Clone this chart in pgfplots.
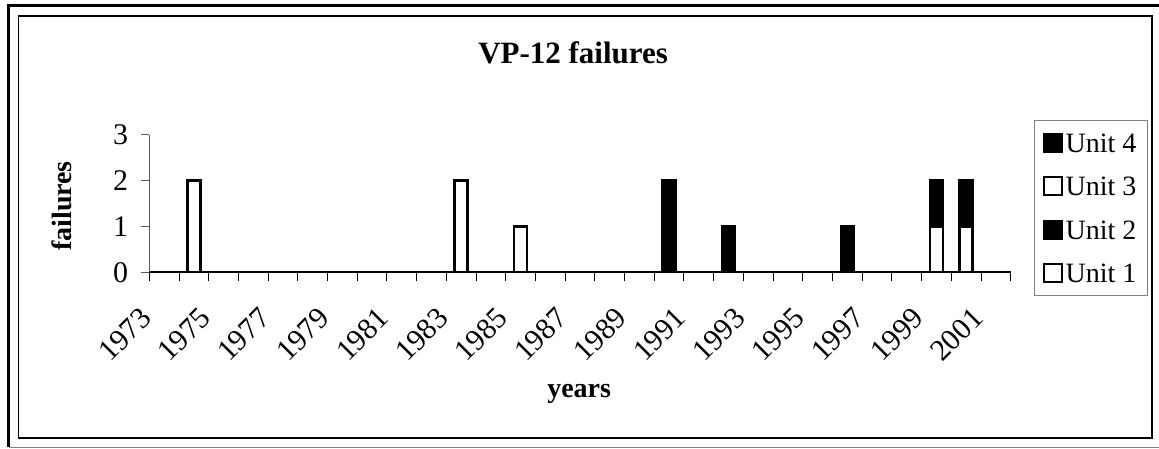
\documentclass[border=0pt]{standalone}
\usepackage{pgfplots}
\pgfplotsset{compat=1.18}
\usepackage{pgfplotstable}
\usepackage{fontspec}
\setmainfont{Liberation Serif}

\pgfplotstableread{
idx u1 u2 u3 u4
0 0 0 0 0
1 2 0 0 0
2 0 0 0 0
3 0 0 0 0
4 0 0 0 0
5 0 0 0 0
6 0 0 0 0
7 0 0 0 0
8 0 0 0 0
9 0 0 0 0
10 2 0 0 0
11 0 0 0 0
12 1 0 0 0
13 0 0 0 0
14 0 0 0 0
15 0 0 0 0
16 0 0 0 0
17 0 2 0 0
18 0 0 0 0
19 0 1 0 0
20 0 0 0 0
21 0 0 0 0
22 0 0 0 0
23 0 1 0 0
24 0 0 0 0
25 0 0 0 0
26 0 0 1 1
27 0 0 1 1
28 0 0 0 0
}\datatable

\begin{document}
\begin{tikzpicture}[x=1pt,y=1pt]
\useasboundingbox (0,0) rectangle (1159,449);
% outer frame
\draw[black, line width=2.5pt] (8.5,1.7) -- (8.5,443.5) -- (1165,443.5);
\draw[gray, line width=1.5pt] (8.5,1.7) -- (1165,1.7);
% inner frame
\draw[black, line width=1.6pt] (18.3,10.7) rectangle (1151.7,433);
\begin{axis}[
  at={(149.3pt,176.7pt)}, anchor=south west,
  scale only axis, width=861.4pt, height=137.6pt,
  xmin=-0.5, xmax=28.5, ymin=0, ymax=3,
  ybar stacked, bar width=13pt,
  axis lines=left,
  axis line style={-},
  x axis line style={black, line width=1.8pt, -},
  y axis line style={gray!70!black, line width=1pt, -},
  tick align=outside,
  major tick length=8.6pt,
  minor tick length=8.6pt,
  xtick={0,2,...,28},
  xticklabels={1973,1975,1977,1979,1981,1983,1985,1987,1989,1991,1993,1995,1997,1999,2001},
  minor xtick={-0.5,0.5,...,28.5},
  major x tick style={draw=none},
  minor x tick style={black, line width=1pt},
  xticklabel style={font=\fontsize{30}{30}\selectfont, inner sep=0pt, anchor=east, xshift=-18pt, yshift=-32.4pt, rotate=45},
  ytick={0,1,2,3},
  ytick style={gray!70!black, line width=1pt},
  /pgf/number format/assume math mode=true,
  yticklabel style={font=\fontsize{30}{30}\selectfont, inner sep=0pt, anchor=east, xshift=-12.4pt},
  title={VP-12 failures},
  title style={at={(axis description cs:0.492,1.474)}, anchor=base, font=\bfseries\fontsize{31}{31}\selectfont},
  xlabel={years},
  xlabel style={at={(axis description cs:0.499,-0.908)}, anchor=base, font=\bfseries\fontsize{28}{28}\selectfont},
  ylabel={failures},
  ylabel style={at={(axis description cs:-0.0901,0.482)}, anchor=base, rotate=0, font=\bfseries\fontsize{28}{28}\selectfont},
  reverse legend,
  legend image code/.code={\draw[#1, line width=2pt] (0pt,0.5pt) rectangle (18pt,18.5pt);},
  legend style={at={(axis description cs:1.0267,1.107)}, anchor=north west, draw=gray, line width=1pt,
    inner xsep=9pt, inner ysep=12.5pt, row sep=23.5pt, column sep=0pt,
    font=\fontsize{28}{28}\selectfont, cells={anchor=base west},
    nodes={inner xsep=2.5pt, inner ysep=0pt, text height=19.5pt, text depth=0pt}},
]
\addplot[fill=white, draw=black, line width=2.5pt] table[x=idx, y=u1] {\datatable};
\addlegendentry{Unit 1}
\addplot[fill=black, draw=black, line width=2.5pt] table[x=idx, y=u2] {\datatable};
\addlegendentry{Unit 2}
\addplot[fill=white, draw=black, line width=2.5pt] table[x=idx, y=u3] {\datatable};
\addlegendentry{Unit 3}
\addplot[fill=black, draw=black, line width=2.5pt] table[x=idx, y=u4] {\datatable};
\addlegendentry{Unit 4}
\end{axis}
\end{tikzpicture}
\end{document}
